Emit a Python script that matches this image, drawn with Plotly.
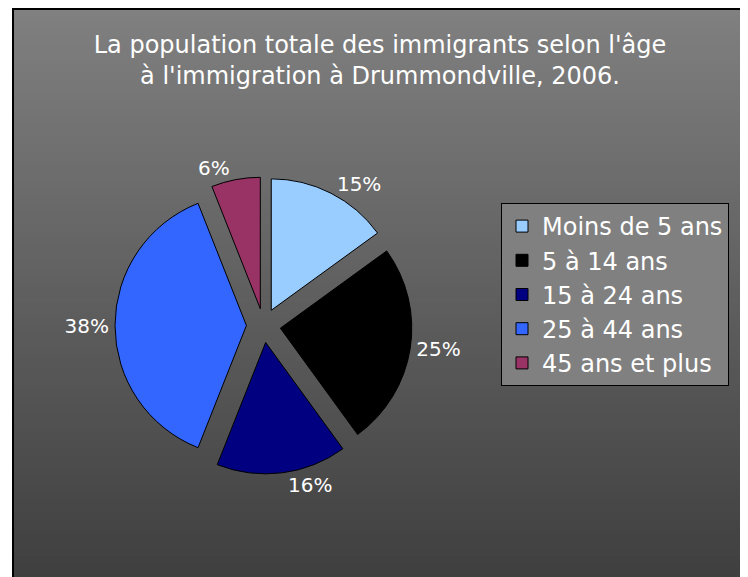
import plotly.graph_objects as go

# data
labels = ["Moins de 5 ans", "5 à 14 ans", "15 à 24 ans", "25 à 44 ans", "45 ans et plus"]
values = [15, 25, 16, 38, 6]
colors = ["#99CCFF", "#000000", "#000080", "#3366FF", "#993366"]

W, H = 748, 577
FONT = "DejaVu Sans"
OFF = 8  # the page body adds an 8px margin, so page coords = plot coords + 8

def px(x):
    return (x - OFF) / W

def py(y):
    return 1 - (y - OFF) / H

fig = go.Figure()

fig.add_trace(go.Pie(
    labels=labels,
    values=values,
    sort=False,
    direction="clockwise",
    rotation=0,
    pull=[0.13] * len(values),
    marker=dict(colors=colors, line=dict(color="black", width=1)),
    textinfo="percent",
    textposition="outside",
    textfont=dict(family=FONT, size=20, color="white"),
    hoverinfo="none",
    domain=dict(x=[px(115), px(412)], y=[py(474), py(177)]),
))

# gradient background (light grey at top -> dark grey at bottom), drawn as thin bands
shapes = []
top_px, bot_px = 8, H + OFF
n = 80
for i in range(n):
    y0 = top_px + (bot_px - top_px) * i / n
    y1 = top_px + (bot_px - top_px) * (i + 1) / n
    g = round(128 - (128 - 62) * (i + 0.5) / n)
    shapes.append(dict(
        type="rect", xref="paper", yref="paper", layer="below",
        x0=px(13), x1=1.01, y0=py(y1) - 0.002, y1=py(y0),
        fillcolor=f"rgb({g},{g},{g})", line=dict(width=0),
    ))
# frame
shapes.append(dict(
    type="rect", xref="paper", yref="paper", layer="below",
    x0=px(13), x1=1.01, y0=-0.01, y1=py(9),
    fillcolor="rgba(0,0,0,0)", line=dict(color="black", width=2),
))

fig.update_layout(
    width=W,
    height=H,
    margin=dict(l=0, r=0, t=0, b=0),
    paper_bgcolor="white",
    shapes=shapes,
    title=dict(
        text="La population totale des immigrants selon l'âge<br>à l'immigration à Drummondville, 2006.",
        x=px(380), xanchor="center",
        y=py(53), yanchor="middle",
        font=dict(family=FONT, size=24, color="white"),
    ),
    showlegend=True,
    legend=dict(
        x=px(501), xanchor="left",
        y=py(203), yanchor="top",
        bgcolor="#808080",
        bordercolor="black",
        borderwidth=1,
        font=dict(family=FONT, size=24, color="white"),
        traceorder="normal",
    ),
)

fig.write_html("out.html")
